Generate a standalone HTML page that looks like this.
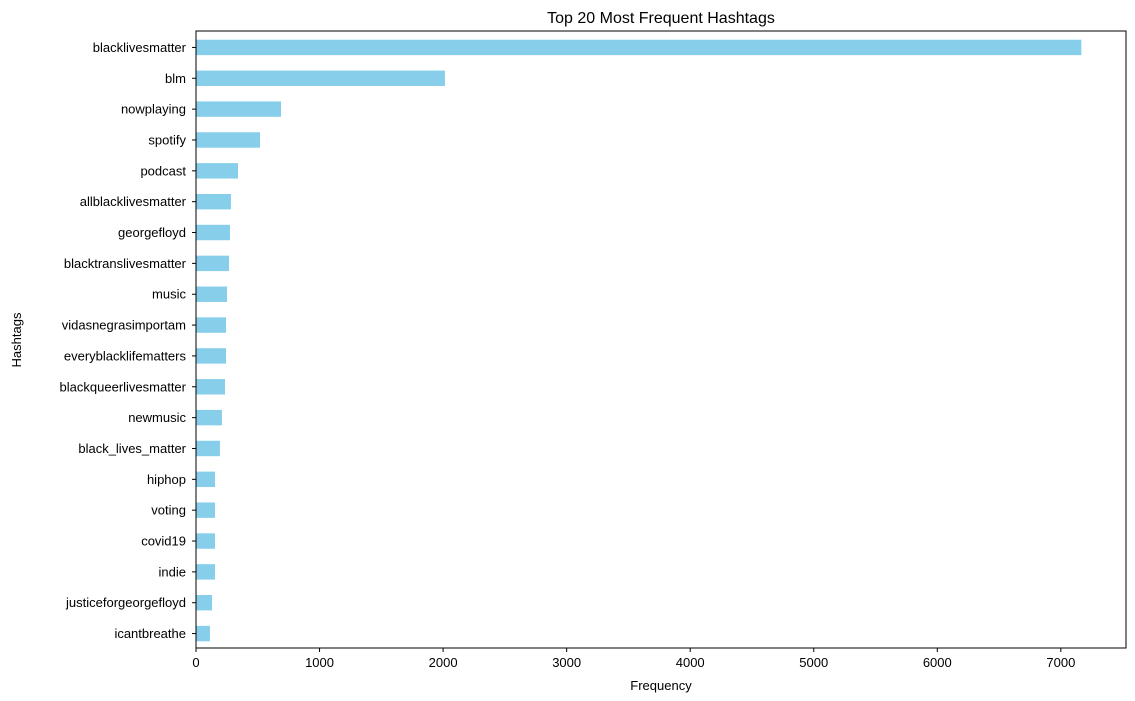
<!DOCTYPE html>
<html><head><meta charset="utf-8"><style>
body{margin:0;background:#fff;}
svg{display:block;font-family:"Liberation Sans","DejaVu Sans",sans-serif;}
</style></head><body>
<svg id="chart" width="1135" height="701">
<text x="661" y="23" font-size="16" text-anchor="middle">Top 20 Most Frequent Hashtags</text>
<text x="661" y="690" font-size="13" text-anchor="middle">Frequency</text>
<text transform="translate(21,340) rotate(-90)" font-size="13" text-anchor="middle">Hashtags</text>
<g id="bars"></g><g id="xticks"></g><g id="yticks"></g>
<rect x="196" y="31" width="930" height="617" fill="none" stroke="#000" stroke-width="1"/>
</svg>
<script>
const categories=["blacklivesmatter","blm","nowplaying","spotify","podcast","allblacklivesmatter","georgefloyd","blacktranslivesmatter","music","vidasnegrasimportam","everyblacklifematters","blackqueerlivesmatter","newmusic","black_lives_matter","hiphop","voting","covid19","indie","justiceforgeorgefloyd","icantbreathe"];
const values=[7166,2015,688,518,340,283,275,267,251,243,243,235,210,194,154,154,154,154,130,113];
const xTicks=[0,1000,2000,3000,4000,5000,6000,7000];
const L=196,R=1126,T=31,B=648;
const x=v=>L+v*(123.55/1000);
const band=(B-T)/categories.length;
const y=i=>T+1+band*(i+0.5);
const ns="http://www.w3.org/2000/svg";
const gb=document.getElementById('bars'),gx=document.getElementById('xticks'),gy=document.getElementById('yticks');
function mk(tag,a,p){const e=document.createElementNS(ns,tag);for(const k in a)e.setAttribute(k,a[k]);p.appendChild(e);return e;}
categories.forEach((c,i)=>{
 const r=mk('rect',{x:L,y:y(i)-band*0.25,width:x(values[i])-L,height:band*0.5,fill:'#87ceeb'},gb);
 
 
 const t=mk('line',{x1:L-4,x2:L,y1:y(i),y2:y(i),stroke:'#000'},gy);
 
 
 const l=mk('text',{x:L-10,y:y(i)+4.5,'font-size':13,'text-anchor':'end'},gy);
 l.textContent=c;
 
 
});
xTicks.forEach(v=>{
 const t=mk('line',{x1:x(v),x2:x(v),y1:B,y2:B+4,stroke:'#000'},gx);
 
 
 const l=mk('text',{x:x(v),y:B+19,'font-size':13,'text-anchor':'middle'},gx);
 l.textContent=v;
 
 
});
</script>
</body></html>
